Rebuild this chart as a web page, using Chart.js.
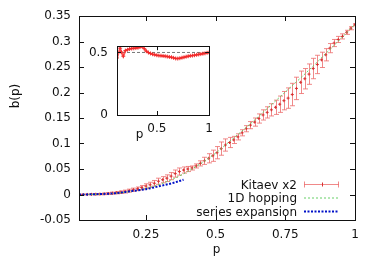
<!DOCTYPE html>
<html>
<head>
<meta charset="utf-8">
<script src="https://cdn.jsdelivr.net/npm/chart.js@4/dist/chart.umd.min.js"></script>
<style>
  html, body { margin: 0; padding: 0; background: #fff; }
  #wrap { position: relative; width: 374px; height: 262px; }
  #main { position: absolute; left: 0; top: 0; }
  #inset { position: absolute; left: 60px; top: 30px; }
</style>
</head>
<body>
<div id="wrap">
  <canvas id="main" width="374" height="262"></canvas>
  <canvas id="inset" width="160" height="120"></canvas>
</div>
<script>
// ── data ─────────────────────────────────────────────────────────────────────
const kitaevP = [0.01, 0.025, 0.04, 0.055, 0.07, 0.085, 0.1, 0.115, 0.13, 0.145,
    0.16, 0.175, 0.19, 0.205, 0.22, 0.235, 0.25, 0.265, 0.28, 0.295,
    0.31, 0.325, 0.34, 0.355, 0.37, 0.385, 0.4, 0.415, 0.43, 0.445,
    0.46, 0.475, 0.49, 0.505, 0.52, 0.535, 0.55, 0.565, 0.58, 0.595,
    0.61, 0.625, 0.64, 0.655, 0.67, 0.685, 0.7, 0.715, 0.73, 0.745,
    0.76, 0.775, 0.79, 0.805, 0.82, 0.835, 0.85, 0.865, 0.88, 0.895,
    0.91, 0.925, 0.94, 0.955, 0.97, 0.985, 1.0];
const kitaevB = [0.0, 0.0, 0.0001, 0.0003, 0.0005, 0.0008, 0.0012, 0.0018, 0.0026, 0.0035,
    0.0045, 0.0058, 0.0075, 0.0093, 0.0112, 0.0135, 0.0165, 0.019, 0.022, 0.026,
    0.029, 0.032, 0.036, 0.041, 0.045, 0.048, 0.050, 0.052, 0.056, 0.061,
    0.066, 0.071, 0.076, 0.082, 0.090, 0.097, 0.102, 0.107, 0.113, 0.121,
    0.129, 0.136, 0.142, 0.149, 0.156, 0.161, 0.166, 0.171, 0.177, 0.184,
    0.189, 0.196, 0.208, 0.220, 0.227, 0.236, 0.247, 0.255, 0.264, 0.274,
    0.287, 0.297, 0.304, 0.310, 0.318, 0.326, 0.333];
const kitaevErr = [0.0005, 0.0005, 0.0008, 0.001, 0.001, 0.0012, 0.0015,
    0.0018, 0.002, 0.0022, 0.0025, 0.0028, 0.003, 0.0032, 0.0035,
    0.004, 0.0045, 0.005, 0.0055, 0.006, 0.006, 0.0065, 0.007, 0.007, 0.007, 0.006, 0.005,
    0.004, 0.004, 0.005, 0.007, 0.009, 0.011,
    0.012, 0.013, 0.012, 0.010,
    0.007, 0.006, 0.006, 0.006,
    0.007, 0.008, 0.009, 0.010, 0.011, 0.012,
    0.014, 0.016, 0.018, 0.02, 0.022, 0.022, 0.022, 0.02, 0.02, 0.02,
    0.018, 0.015, 0.012, 0.009,
    0.007, 0.006, 0.005, 0.004, 0.003, 0.002];

const hoppingP = [0.01, 0.05, 0.1, 0.15, 0.2, 0.25, 0.3, 0.35, 0.4, 0.45, 0.5,
    0.55, 0.6, 0.65, 0.7, 0.75, 0.8, 0.85, 0.9, 0.95, 1.0];
const hoppingB = [0.0, 0.0001, 0.0008, 0.0028, 0.0065, 0.012, 0.02, 0.031, 0.045, 0.062, 0.081,
    0.104, 0.127, 0.151, 0.176, 0.201, 0.226, 0.252, 0.279, 0.306, 0.334];

const seriesP = [0.01, 0.05, 0.1, 0.15, 0.2, 0.25, 0.3, 0.35, 0.385];
const seriesB = [0.0, 0.0003, 0.0012, 0.003, 0.0068, 0.0105, 0.0165, 0.023, 0.029];

const insetP = [0.12, 0.15, 0.16, 0.18, 0.20, 0.22, 0.24, 0.26, 0.28, 0.30,
    0.32, 0.34, 0.36, 0.38, 0.40, 0.42, 0.44, 0.46, 0.48, 0.50,
    0.52, 0.54, 0.56, 0.58, 0.60, 0.62, 0.64, 0.66, 0.68, 0.70,
    0.72, 0.74, 0.76, 0.78, 0.80, 0.82, 0.84, 0.86, 0.88, 0.90,
    0.92, 0.94, 0.96, 0.98, 1.00];
const insetB = [0.456, 0.534, 0.504, 0.47, 0.515, 0.522, 0.528, 0.531, 0.533, 0.535,
    0.538, 0.543, 0.547, 0.53, 0.51, 0.499, 0.492, 0.486, 0.482, 0.478,
    0.475, 0.474, 0.472, 0.47, 0.467, 0.464, 0.462, 0.457, 0.452, 0.451,
    0.454, 0.458, 0.462, 0.466, 0.47, 0.473, 0.475, 0.478, 0.481, 0.484,
    0.487, 0.49, 0.493, 0.497, 0.5];
const insetRefP = [0.12, 1.0];
const insetRefB = [0.5, 0.5];

const xTicks = [0.25, 0.5, 0.75, 1];
const xTickLabels = ['0.25', '0.5', '0.75', '1'];
const yTicks = [-0.05, 0, 0.05, 0.1, 0.15, 0.2, 0.25, 0.3, 0.35];
const yTickLabels = ['-0.05', '0', '0.05', '0.1', '0.15', '0.2', '0.25', '0.3', '0.35'];
const insetXTicks = [0.5, 1];
const insetXTickLabels = ['0.5', '1'];
const insetYTicks = [0, 0.5];
const insetYTickLabels = ['0', '0.5'];

const legendLabels = ['Kitaev x2', '1D hopping', 'series expansion'];

// ── styling ──────────────────────────────────────────────────────────────────
const FONT = "'DejaVu Sans', sans-serif";
Chart.defaults.font.family = FONT;
Chart.defaults.font.size = 12;
Chart.defaults.color = '#111';

const RED_BAR = 'rgba(236,108,108,0.8)';
const RED_PT = '#d83030';
const GREEN = '#66d066';
const BLUE = '#0010c8';

function pts(xs, ys) { return xs.map((x, i) => ({ x: x, y: ys[i] })); }

function line(ctx, x1, y1, x2, y2) {
    ctx.beginPath(); ctx.moveTo(x1, y1); ctx.lineTo(x2, y2); ctx.stroke();
}

// white page behind the main chart
const whiteBg = {
    id: 'whiteBg',
    beforeDraw(chart) {
        const ctx = chart.ctx;
        ctx.save(); ctx.fillStyle = '#fff';
        ctx.fillRect(0, 0, chart.width, chart.height);
        ctx.restore();
    }
};

// gnuplot-like box with inward ticks on all four sides
const frame = {
    id: 'frame',
    afterDatasetsDraw(chart, args, opts) {
        const { ctx, chartArea: a, scales: { x, y } } = chart;
        const len = opts.len || 5;
        ctx.save();
        ctx.strokeStyle = '#111'; ctx.lineWidth = 1;
        ctx.strokeRect(Math.round(a.left) + 0.5, Math.round(a.top) + 0.5,
            Math.round(a.right - a.left), Math.round(a.bottom - a.top));
        x.ticks.forEach(t => {
            const px = Math.round(x.getPixelForValue(t.value)) + 0.5;
            line(ctx, px, a.bottom, px, a.bottom - len);
            line(ctx, px, a.top, px, a.top + len);
        });
        y.ticks.forEach(t => {
            const py = Math.round(y.getPixelForValue(t.value)) + 0.5;
            line(ctx, a.left, py, a.left + len, py);
            line(ctx, a.right, py, a.right - len, py);
        });
        ctx.restore();
    }
};

// vertical error bars for the Kitaev points
const errorBars = {
    id: 'errorBars',
    beforeDatasetsDraw(chart) {
        const { ctx, chartArea: a, scales: { x, y } } = chart;
        ctx.save();
        ctx.beginPath(); ctx.rect(a.left, a.top, a.right - a.left, a.bottom - a.top); ctx.clip();
        ctx.strokeStyle = RED_BAR; ctx.lineWidth = 1;
        kitaevP.forEach((p, i) => {
            const px = Math.round(x.getPixelForValue(p)) + 0.5;
            const lo = y.getPixelForValue(kitaevB[i] - kitaevErr[i]);
            const hi = y.getPixelForValue(kitaevB[i] + kitaevErr[i]);
            line(ctx, px, lo, px, hi);
            line(ctx, px - 2.5, lo, px + 2.5, lo);
            line(ctx, px - 2.5, hi, px + 2.5, hi);
        });
        ctx.restore();
    }
};

// key in the lower right, text left of the sample as gnuplot does it
const keyBox = {
    id: 'keyBox',
    afterDraw(chart) {
        const ctx = chart.ctx;
        const textRight = 297, x1 = 304, x2 = 339;
        ctx.save();
        ctx.font = '12px ' + FONT; ctx.fillStyle = '#111';
        ctx.textAlign = 'right'; ctx.textBaseline = 'middle';
        legendLabels.forEach((lab, i) => {
            const yy = 184.5 + i * 13.5;
            ctx.fillText(lab, textRight, yy + 1);
            if (i === 0) {
                ctx.strokeStyle = RED_BAR; ctx.lineWidth = 1;
                line(ctx, x1, yy, x2, yy);
                line(ctx, x1 + 0.5, yy - 3, x1 + 0.5, yy + 3);
                line(ctx, x2 - 0.5, yy - 3, x2 - 0.5, yy + 3);
                ctx.strokeStyle = RED_PT;
                const mid = Math.round((x1 + x2) / 2) + 0.5;
                line(ctx, mid, yy - 2, mid, yy + 2);
            } else if (i === 1) {
                ctx.strokeStyle = GREEN; ctx.lineWidth = 1; ctx.setLineDash([2, 2]);
                line(ctx, x1, yy, x2, yy);
            } else {
                ctx.strokeStyle = BLUE; ctx.lineWidth = 2; ctx.setLineDash([2, 1.5]);
                line(ctx, x1, yy, x2, yy);
            }
            ctx.setLineDash([]);
        });
        ctx.restore();
    }
};

// axis titles placed where gnuplot put them
const axisTitles = {
    id: 'axisTitles',
    afterDraw(chart, args, opts) {
        const ctx = chart.ctx;
        ctx.save();
        ctx.font = '12px ' + FONT; ctx.fillStyle = '#111';
        ctx.textAlign = 'center'; ctx.textBaseline = 'alphabetic';
        if (opts.x) ctx.fillText(opts.x.text, opts.x.at[0], opts.x.at[1]);
        if (opts.y) {
            ctx.translate(opts.y.at[0], opts.y.at[1]);
            ctx.rotate(-Math.PI / 2);
            ctx.textBaseline = 'middle';
            ctx.fillText(opts.y.text, 0, 0);
        }
        ctx.restore();
    }
};

// ── main chart ───────────────────────────────────────────────────────────────
new Chart(document.getElementById('main'), {
    type: 'scatter',
    data: {
        datasets: [
            {
                label: 'series expansion',
                data: pts(seriesP, seriesB),
                showLine: true,
                borderColor: BLUE,
                borderWidth: 2,
                borderDash: [2, 1.5],
                pointRadius: 0,
                cubicInterpolationMode: 'monotone'
            },
            {
                label: '1D hopping',
                data: pts(hoppingP, hoppingB),
                showLine: true,
                borderColor: GREEN,
                borderWidth: 1,
                borderDash: [2, 2],
                pointRadius: 0,
                cubicInterpolationMode: 'monotone'
            },
            {
                label: 'Kitaev x2',
                data: pts(kitaevP, kitaevB),
                showLine: false,
                pointStyle: 'cross',
                pointRadius: 1.5,
                borderColor: RED_PT,
                backgroundColor: RED_PT,
                borderWidth: 1
            }
        ]
    },
    options: {
        responsive: false,
        animation: false,
        events: [],
        layout: { padding: { left: 0, right: 19, top: 16, bottom: 0 } },
        plugins: {
            legend: { display: false },
            tooltip: { enabled: false },
            frame: { len: 5 },
            axisTitles: {
                x: { text: 'p', at: [216.5, 253] },
                y: { text: 'b(p)', at: [16, 96] }
            }
        },
        scales: {
            x: {
                type: 'linear', min: 0.01, max: 1,
                afterBuildTicks: s => { s.ticks = xTicks.map(v => ({ value: v })); },
                afterFit: s => { s.height = 42; },
                ticks: { callback: (v, i) => xTickLabels[i], padding: 8, maxRotation: 0, autoSkip: false },
                grid: { display: false, drawTicks: false },
                border: { display: false }
            },
            y: {
                min: -0.05, max: 0.35,
                afterBuildTicks: s => { s.ticks = yTicks.map(v => ({ value: v })); },
                afterFit: s => { s.width = 79; },
                ticks: { callback: (v, i) => yTickLabels[i], padding: 8, autoSkip: false },
                grid: { display: false, drawTicks: false },
                border: { display: false }
            }
        }
    },
    plugins: [whiteBg, errorBars, frame, keyBox, axisTitles]
});

// ── inset ────────────────────────────────────────────────────────────────────
new Chart(document.getElementById('inset'), {
    type: 'scatter',
    data: {
        datasets: [
            {
                data: pts(insetP, insetB),
                showLine: true,
                borderColor: 'rgba(255,60,60,0.85)',
                borderWidth: 2,
                pointStyle: 'cross',
                pointRadius: 2,
                pointBorderColor: 'rgba(240,40,40,0.9)',
                pointBorderWidth: 1
            },
            {
                data: pts(insetRefP, insetRefB),
                showLine: true,
                borderColor: '#777',
                borderWidth: 1,
                borderDash: [3, 2],
                pointRadius: 0
            }
        ]
    },
    options: {
        responsive: false,
        animation: false,
        events: [],
        layout: { padding: { left: 0, right: 10, top: 10, bottom: 0 } },
        plugins: {
            legend: { display: false },
            tooltip: { enabled: false },
            frame: { len: 4 },
            axisTitles: { x: { text: 'p', at: [79.5, 108] } }
        },
        scales: {
            x: {
                type: 'linear', min: 0.12, max: 1,
                afterBuildTicks: s => { s.ticks = insetXTicks.map(v => ({ value: v })); },
                afterFit: s => { s.height = 35; },
                ticks: { callback: (v, i) => insetXTickLabels[i], padding: 7, maxRotation: 0, autoSkip: false },
                grid: { display: false, drawTicks: false },
                border: { display: false }
            },
            y: {
                min: 0, max: 0.55,
                afterBuildTicks: s => { s.ticks = insetYTicks.map(v => ({ value: v })); },
                afterFit: s => { s.width = 57; },
                ticks: { callback: (v, i) => insetYTickLabels[i], padding: 9, autoSkip: false },
                grid: { display: false, drawTicks: false },
                border: { display: false }
            }
        }
    },
    plugins: [frame, axisTitles]
});
</script>
</body>
</html>
